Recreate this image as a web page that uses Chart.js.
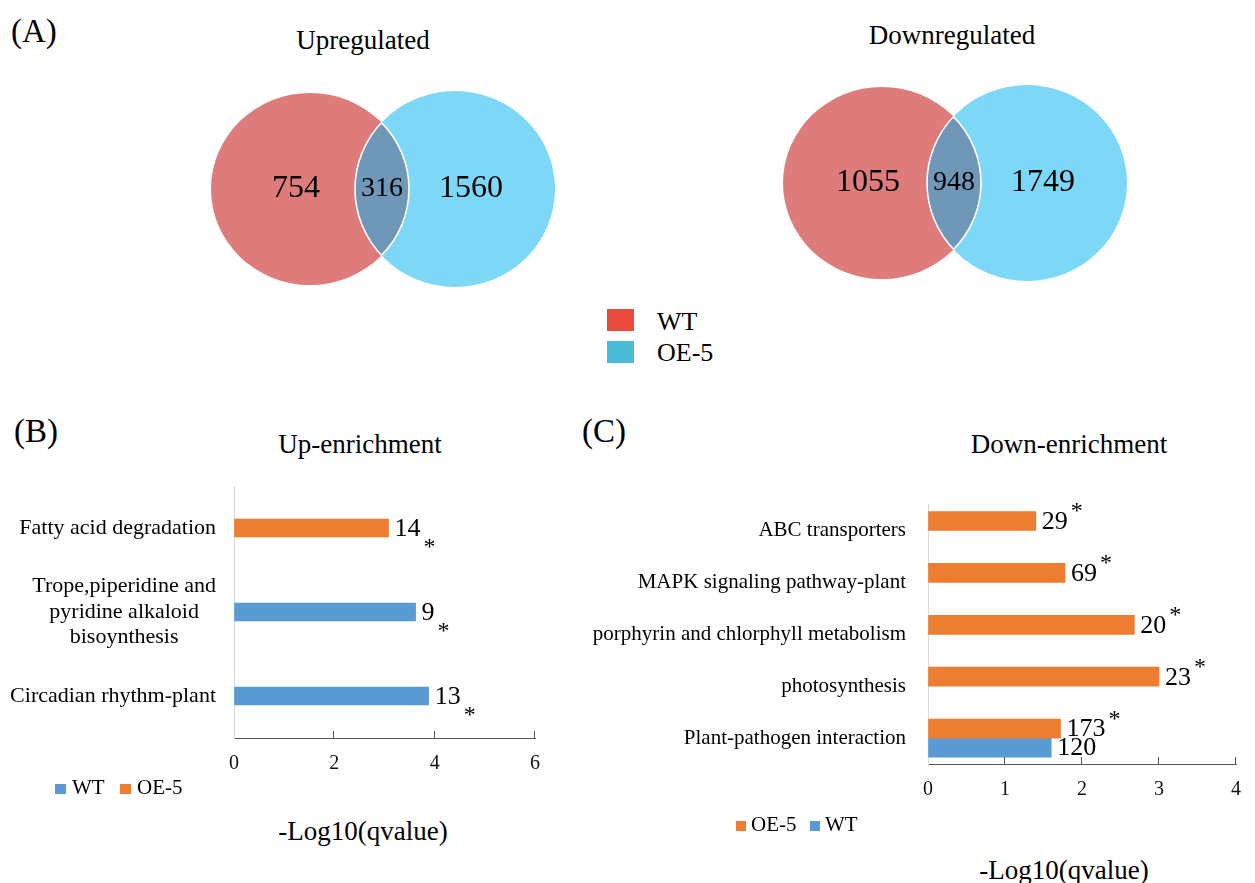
<!DOCTYPE html>
<html lang="en">
  <head>
    <meta charset="UTF-8" />
    <title>DEG Venn and KEGG enrichment</title>
    <script src="https://cdn.jsdelivr.net/npm/chart.js"></script>
    <style>
      body { margin: 0; background: #fff; }
      #fig { position: relative; width: 1255px; height: 883px; overflow: hidden;
             font-family: "Liberation Serif", "Times New Roman", serif; color: #000; }
      #fig div, #fig canvas { position: absolute; }
      .txt { white-space: nowrap; line-height: 1; }
      .ctr { white-space: nowrap; line-height: 1; width: 400px; text-align: center; }
      .sq { display: block; }
    </style>
  </head>
  <body>
    <div id="fig">
      <!-- (A) venn diagrams -->
      <div class="txt" style="left:11px;top:15px;font-size:33px">(A)</div>
      <div class="ctr" style="left:163px;top:27px;font-size:27px">Upregulated</div>
      <div class="ctr" style="left:752px;top:22px;font-size:27px">Downregulated</div>
      <canvas id="vennUp" width="370" height="220" style="left:200px;top:79px"></canvas>
      <canvas id="vennDown" width="370" height="220" style="left:772px;top:73px"></canvas>

      <div class="sq" style="left:607px;top:309px;width:27px;height:22px;background:#e74c3c"></div>
      <div class="sq" style="left:607px;top:341px;width:27px;height:22px;background:#4bbcd8"></div>
      <div class="txt" style="left:657px;top:309px;font-size:26px">WT</div>
      <div class="txt" style="left:657px;top:340px;font-size:26px">OE-5</div>

      <!-- (B) up enrichment -->
      <div class="txt" style="left:14px;top:415px;font-size:33px">(B)</div>
      <div class="ctr" style="left:160px;top:431px;font-size:27px">Up-enrichment</div>
      <canvas id="upChart" width="580" height="334" style="left:0px;top:470px"></canvas>
      <div class="sq" style="left:55px;top:784px;width:11px;height:10px;background:#5b9bd5"></div>
      <div class="txt" style="left:72px;top:777px;font-size:21px">WT</div>
      <div class="sq" style="left:120px;top:784px;width:11px;height:10px;background:#ed7d31"></div>
      <div class="txt" style="left:137px;top:777px;font-size:21px">OE-5</div>
      <div class="ctr" style="left:163px;top:818px;font-size:27px">-Log10(qvalue)</div>

      <!-- (C) down enrichment -->
      <div class="txt" style="left:582px;top:415px;font-size:33px">(C)</div>
      <div class="ctr" style="left:869px;top:431px;font-size:27px">Down-enrichment</div>
      <canvas id="downChart" width="675" height="359" style="left:580px;top:470px"></canvas>
      <div class="sq" style="left:736px;top:821px;width:10px;height:10px;background:#ed7d31"></div>
      <div class="txt" style="left:751px;top:814px;font-size:21px">OE-5</div>
      <div class="sq" style="left:810px;top:821px;width:10px;height:10px;background:#5b9bd5"></div>
      <div class="txt" style="left:825px;top:814px;font-size:21px">WT</div>
      <div class="ctr" style="left:864px;top:857px;font-size:27px">-Log10(qvalue)</div>
    </div>

    <script>
      // ---- data ----
      const vennGroups = ["WT", "OE-5"];
      const upVenn = [754, 316, 1560];     // WT only, shared, OE-5 only
      const downVenn = [1055, 948, 1749];

      const upPathways = [
        "Fatty acid degradation",
        ["Trope,piperidine and", "pyridine alkaloid", "bisoynthesis"],
        "Circadian rhythm-plant",
      ];
      const upWT = [null, 3.62, 3.88];
      const upOE = [3.08, null, null];
      const upWTGenes = [null, 9, 13];
      const upOEGenes = [14, null, null];
      const upWTStar = [false, true, true];
      const upOEStar = [true, false, false];
      const upTicks = [0, 2, 4, 6];

      const downPathways = [
        "ABC transporters",
        "MAPK signaling pathway-plant",
        "porphyrin and chlorphyll metabolism",
        "photosynthesis",
        "Plant-pathogen interaction",
      ];
      const downOE = [1.4, 1.78, 2.68, 3.0, 1.72];
      const downWT = [null, null, null, null, 1.6];
      const downOEGenes = [29, 69, 20, 23, 173];
      const downWTGenes = [null, null, null, null, 120];
      const downOEStar = [true, true, true, true, true];
      const downWTStar = [false, false, false, false, false];
      const downTicks = [0, 1, 2, 3, 4];

      // ---- look ----
      const FONT = "'Liberation Serif', 'Times New Roman', serif";
      const BLUE = "#5b9bd5";
      const ORANGE = "#ed7d31";
      const vennFill = ["#de7c7b", "#7dd7f7"];
      const vennOverlap = "#6e97b8";
      const axisColor = "#555555";

      Chart.defaults.font.family = FONT;
      Chart.defaults.color = "#000";

      // venn geometry in chart units (layout only)
      const vennShape = [
        { cx: 0, cy: 0, rx: 0.99, ry: 0.96 },
        { cx: 1.45, cy: 0, rx: 1.0, ry: 0.98 },
      ];
      const vennSpots = [
        { x: -0.14, y: 0 },
        { x: 0.72, y: 0 },
        { x: 1.61, y: 0 },
      ];

      function ellipsePath(ctx, sx, sy, c) {
        const x = sx.getPixelForValue(c.cx);
        const y = sy.getPixelForValue(c.cy);
        const rx = Math.abs(sx.getPixelForValue(c.cx + c.rx) - x);
        const ry = Math.abs(sy.getPixelForValue(c.cy + c.ry) - y);
        ctx.beginPath();
        ctx.ellipse(x, y, rx, ry, 0, 0, Math.PI * 2);
      }

      const vennPlugin = {
        id: "venn",
        beforeDatasetsDraw(chart) {
          const { ctx } = chart;
          const sx = chart.scales.x, sy = chart.scales.y;
          const [a, b] = vennShape;
          ctx.save();
          ellipsePath(ctx, sx, sy, a);
          ctx.fillStyle = vennFill[0];
          ctx.fill();
          ellipsePath(ctx, sx, sy, b);
          ctx.fillStyle = vennFill[1];
          ctx.fill();
          // overlap + white edges
          ctx.save();
          ellipsePath(ctx, sx, sy, a);
          ctx.clip();
          ellipsePath(ctx, sx, sy, b);
          ctx.fillStyle = vennOverlap;
          ctx.fill();
          ctx.strokeStyle = "#fff";
          ctx.lineWidth = 1.6;
          ctx.stroke();
          ctx.restore();
          ctx.save();
          ellipsePath(ctx, sx, sy, b);
          ctx.clip();
          ellipsePath(ctx, sx, sy, a);
          ctx.strokeStyle = "#fff";
          ctx.lineWidth = 1.6;
          ctx.stroke();
          ctx.restore();
          ctx.restore();
        },
        afterDatasetsDraw(chart, args, opts) {
          const { ctx } = chart;
          const pts = chart.getDatasetMeta(0).data;
          ctx.save();
          ctx.fillStyle = "#000";
          ctx.textAlign = "center";
          ctx.textBaseline = "middle";
          pts.forEach((p, i) => {
            ctx.font = (i === 1 ? 28 : 32) + "px " + FONT;
            ctx.fillText(String(opts.counts[i]), p.x, p.y);
          });
          ctx.restore();
        },
      };

      function makeVenn(id, counts) {
        return new Chart(document.getElementById(id), {
          type: "scatter",
          data: { datasets: [{ label: vennGroups.join(" / "), data: vennSpots, pointRadius: 0 }] },
          options: {
            responsive: false,
            animation: false,
            layout: { padding: 0 },
            scales: {
              x: { type: "linear", min: -1.1, max: 2.6, display: false },
              y: { type: "linear", min: -1.1, max: 1.1, display: false },
            },
            plugins: { legend: { display: false }, tooltip: { enabled: false }, venn: { counts } },
          },
          plugins: [vennPlugin],
        });
      }

      makeVenn("vennUp", upVenn);
      makeVenn("vennDown", downVenn);

      // gene counts and asterisks at the bar ends
      const barLabels = {
        id: "barLabels",
        afterDatasetsDraw(chart, args, opts) {
          const { ctx } = chart;
          ctx.save();
          ctx.fillStyle = "#000";
          chart.data.datasets.forEach((ds, di) => {
            chart.getDatasetMeta(di).data.forEach((bar, i) => {
              if (ds.data[i] == null) return;
              const txt = String(ds.genes[i]);
              const x0 = bar.x + 6;
              ctx.font = "26px " + FONT;
              ctx.textAlign = "left";
              ctx.textBaseline = "middle";
              ctx.fillText(txt, x0, bar.y + 1);
              if (ds.star[i]) {
                const w = ctx.measureText(txt).width;
                ctx.font = "24px " + FONT;
                ctx.textAlign = "center";
                ctx.textBaseline = "alphabetic";
                ctx.fillText("*", x0 + w + 9, bar.y + opts.starDy + 12);
              }
            });
          });
          ctx.restore();
        },
      };

      // small tick marks pointing up from the value axis
      const tickMarks = {
        id: "tickMarks",
        afterDraw(chart) {
          const { ctx } = chart;
          const sx = chart.scales.x;
          const bottom = chart.chartArea.bottom;
          ctx.save();
          ctx.strokeStyle = axisColor;
          ctx.lineWidth = 1;
          sx.ticks.forEach((t, i) => {
            if (i === 0) return;
            const px = Math.round(sx.getPixelForValue(t.value)) - 0.5;
            ctx.beginPath();
            ctx.moveTo(px, bottom);
            ctx.lineTo(px, bottom - 7);
            ctx.stroke();
          });
          ctx.restore();
        },
      };

      // category labels, multi-line ones centred on their own block
      const blockLabels = {
        id: "blockLabels",
        afterDraw(chart, args, opts) {
          const { ctx } = chart;
          const sy = chart.scales.y;
          const right = chart.chartArea.left - opts.gap;
          ctx.save();
          ctx.font = opts.size + "px " + FONT;
          ctx.fillStyle = "#000";
          ctx.textAlign = "center";
          ctx.textBaseline = "middle";
          chart.data.labels.forEach((lab, i) => {
            const lines = [].concat(lab);
            const w = Math.max(...lines.map((l) => ctx.measureText(l).width));
            const cy = sy.getPixelForValue(i);
            lines.forEach((l, k) => {
              ctx.fillText(l, right - w / 2, cy + (k - (lines.length - 1) / 2) * opts.lineHeight);
            });
          });
          ctx.restore();
        },
      };

      function valueAxis(ticks) {
        return {
          type: "linear",
          min: ticks[0],
          max: ticks[ticks.length - 1],
          afterBuildTicks: (s) => { s.ticks = ticks.map((v) => ({ value: v })); },
          grid: { display: true, drawOnChartArea: false, drawTicks: false },
          border: { display: true, color: axisColor, width: 1 },
          ticks: { font: { size: 20 }, color: "#111", padding: 14 },
        };
      }

      new Chart(document.getElementById("upChart"), {
        type: "bar",
        data: {
          labels: upPathways,
          datasets: [
            { label: "WT", data: upWT, genes: upWTGenes, star: upWTStar, backgroundColor: BLUE },
            { label: "OE-5", data: upOE, genes: upOEGenes, star: upOEStar, backgroundColor: ORANGE },
          ],
        },
        options: {
          indexAxis: "y",
          responsive: false,
          animation: false,
          layout: { padding: { top: 16, right: 45, bottom: 14, left: 0 } },
          datasets: { bar: { skipNull: true, barThickness: 18 } },
          scales: {
            x: valueAxis(upTicks),
            y: {
              afterFit: (s) => { s.width = 234; },
              grid: { display: true, drawOnChartArea: false, drawTicks: false },
              border: { display: true, color: "#d9d9d9", width: 1 },
              ticks: { display: false },
            },
          },
          plugins: {
            legend: { display: false },
            tooltip: { enabled: false },
            barLabels: { starDy: 14 },
            blockLabels: { gap: 18, size: 22, lineHeight: 25.5 },
          },
        },
        plugins: [barLabels, tickMarks, blockLabels],
      });

      new Chart(document.getElementById("downChart"), {
        type: "bar",
        data: {
          labels: downPathways,
          datasets: [
            { label: "OE-5", data: downOE, genes: downOEGenes, star: downOEStar, backgroundColor: ORANGE },
            { label: "WT", data: downWT, genes: downWTGenes, star: downWTStar, backgroundColor: BLUE },
          ],
        },
        options: {
          indexAxis: "y",
          responsive: false,
          animation: false,
          layout: { padding: { top: 14, right: 10, bottom: 13, left: 0 } },
          datasets: { bar: { barThickness: 19 } },
          scales: {
            x: valueAxis(downTicks),
            y: {
              afterFit: (s) => { s.width = 348; },
              grid: { display: true, drawOnChartArea: false, drawTicks: false },
              border: { display: true, color: "#d9d9d9", width: 1 },
              ticks: { font: { size: 21 }, color: "#000", padding: 22 },
            },
          },
          plugins: {
            legend: { display: false },
            tooltip: { enabled: false },
            barLabels: { starDy: -15 },
          },
        },
        plugins: [barLabels, tickMarks],
      });
    </script>
  </body>
</html>
